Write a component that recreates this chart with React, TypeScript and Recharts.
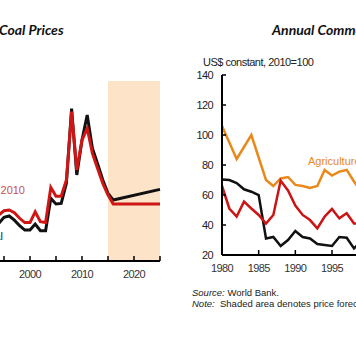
import { LineChart, Line, XAxis, YAxis, ReferenceArea } from 'recharts';

// Coal prices (US$/mt), left panel
const coalYears = [1994, 1995, 1996, 1997, 1998, 1999, 2000, 2001, 2002, 2003, 2004, 2005, 2006, 2007, 2008, 2009, 2010, 2011, 2012, 2013, 2014, 2015, 2016, 2025];
const coalNominal = [31.4, 36.4, 37.5, 34, 29.4, 25.8, 25.8, 30.8, 25.3, 25.3, 52.2, 47.5, 48, 64.7, 127, 71.7, 100.8, 121.7, 94, 81, 67.5, 56.4, 50.8, 59.7];
const coalReal = [38.3, 41.9, 42.5, 40.3, 35.6, 32, 32, 41, 32.8, 32, 61.4, 54, 54, 67.5, 124.4, 75.8, 100.8, 110.6, 89.7, 77, 64.7, 55, 47.5, 47.5];
const coalTicks = [1995, 2000, 2005, 2010, 2015, 2020, 2025];
const coalLabels = [2000, 2010, 2020];

// Annual commodity price indices, right panel
const commYears = [1980, 1981, 1982, 1983, 1984, 1985, 1986, 1987, 1988, 1989, 1990, 1991, 1992, 1993, 1994, 1995, 1996, 1997, 1998, 1999];
const agriculture = [106, 95, 84, 92, 100, 85, 70, 66, 71, 72, 66.7, 66, 64.7, 66, 76.7, 73, 75.6, 76.7, 69, 62];
const energy = [70.4, 70, 68, 63.8, 62.2, 60, 31, 32, 26, 30, 36, 32, 31, 27.3, 26.7, 26, 32, 31.5, 24.4, 29];
const metals = [66, 51, 45.6, 55.6, 51, 46.7, 41, 46.7, 69.6, 63, 53, 46.7, 43.3, 37.8, 45.6, 50.7, 44.4, 47.8, 41, 41];
const commXTicks = [1980, 1985, 1990, 1995, 2000, 2005, 2010, 2015, 2020, 2025];
const commYTicks = [20, 40, 60, 80, 100, 120, 140];

const coalData = coalYears.map((year, i) => ({ year, nominal: coalNominal[i], real: coalReal[i] }));
const commData = commYears.map((year, i) => ({ year, agriculture: agriculture[i], energy: energy[i], metals: metals[i] }));

const FONT = '"Liberation Sans", Arial, sans-serif';

const bottomTick = (labels: number[] | null) => (props: any) => {
  const { x, y, payload } = props;
  const show = labels ? labels.includes(payload.value) : true;
  return (
    <g>
      <line x1={x} x2={x} y1={y} y2={y - 5} stroke="#000" strokeWidth={1.5} />
      {show && (
        <text x={x} y={y + 17} textAnchor="middle" fontSize={11} fill="#333" fontFamily={FONT} letterSpacing={-0.6}>
          {payload.value}
        </text>
      )}
    </g>
  );
};

const leftTick = (props: any) => {
  const { x, y, payload } = props;
  return (
    <g>
      <line x1={x} x2={x + 4} y1={y} y2={y} stroke="#000" strokeWidth={1.5} />
      <text x={x - 9} y={y + 4} textAnchor="end" fontSize={11} fill="#222" fontFamily={FONT} letterSpacing={-0.6}>
        {payload.value}
      </text>
    </g>
  );
};

export default function App() {
  return (
    <div style={{ position: 'fixed', left: 0, top: 0, width: 356, height: 352, overflow: 'hidden', background: '#fff', fontFamily: FONT }}>
      <div style={{ position: 'absolute', left: -1, top: 21, fontFamily: 'Lato, sans-serif', fontStyle: 'italic', fontWeight: 700, fontSize: 14, color: '#111', whiteSpace: 'nowrap' }}>
        Coal Prices
      </div>
      <div style={{ position: 'absolute', left: 272, top: 21, fontFamily: 'Lato, sans-serif', fontStyle: 'italic', fontWeight: 700, fontSize: 14, color: '#111', whiteSpace: 'nowrap' }}>
        Annual Commodity Prices
      </div>

      <div style={{ position: 'absolute', left: -22, top: 0 }}>
        <LineChart width={202} height={300} data={coalData} margin={{ top: 81, right: 20, bottom: 9, left: 0 }}>
          <XAxis
            dataKey="year"
            type="number"
            domain={[1990, 2025]}
            ticks={coalTicks}
            height={30}
            tickSize={0}
            tickMargin={0}
            tickLine={false}
            axisLine={{ stroke: '#000', strokeWidth: 2 }}
            tick={bottomTick(coalLabels)}
            interval={0}
          />
          <YAxis hide domain={[0, 150]} />
          <ReferenceArea x1={2015} x2={2025} y1={0} y2={150} fill="#fde4c9" fillOpacity={1} stroke="none" />
          <Line dataKey="nominal" stroke="#111" strokeWidth={3} dot={false} isAnimationActive={false} />
          <Line dataKey="real" stroke="#d01515" strokeWidth={3} dot={false} isAnimationActive={false} />
        </LineChart>
      </div>
      <div style={{ position: 'absolute', right: 331, top: 184, fontSize: 11, color: '#c9504f', whiteSpace: 'nowrap' }}>Real, 2010</div>
      <div style={{ position: 'absolute', right: 353, top: 230, fontSize: 11, color: '#222', whiteSpace: 'nowrap' }}>Nominal</div>

      <div style={{ position: 'absolute', left: 180, top: 0 }}>
        <LineChart width={400} height={300} data={commData} margin={{ top: 75, right: 28, bottom: 15, left: 0 }}>
          <XAxis
            dataKey="year"
            type="number"
            domain={[1980, 2025]}
            ticks={commXTicks}
            height={30}
            tickSize={0}
            tickMargin={0}
            tickLine={false}
            axisLine={{ stroke: '#000', strokeWidth: 2 }}
            tick={bottomTick(null)}
            interval={0}
          />
          <YAxis
            type="number"
            domain={[20, 140]}
            ticks={commYTicks}
            width={42}
            tickSize={0}
            tickMargin={0}
            tickLine={false}
            axisLine={{ stroke: '#000', strokeWidth: 2 }}
            tick={leftTick}
            interval={0}
          />
          <Line dataKey="agriculture" stroke="#e8891c" strokeWidth={2.5} dot={false} isAnimationActive={false} />
          <Line dataKey="energy" stroke="#111" strokeWidth={2.5} dot={false} isAnimationActive={false} />
          <Line dataKey="metals" stroke="#cc1414" strokeWidth={2.5} dot={false} isAnimationActive={false} />
        </LineChart>
      </div>
      <div style={{ position: 'absolute', left: 203, top: 56, fontSize: 11, color: '#222', whiteSpace: 'nowrap', letterSpacing: -0.5 }}>
        US$ constant, 2010=100
      </div>
      <div style={{ position: 'absolute', left: 308, top: 155, fontSize: 11, color: '#e8891c', whiteSpace: 'nowrap' }}>
        Agriculture
      </div>
      <div style={{ position: 'absolute', left: 192, top: 287, fontSize: 9.5, color: '#222', whiteSpace: 'nowrap' }}>
        <i>Source:</i> World Bank.
      </div>
      <div style={{ position: 'absolute', left: 192, top: 298, fontSize: 9.5, color: '#222', whiteSpace: 'nowrap' }}>
        <i>Note:</i>&nbsp; Shaded area denotes price forecasts.
      </div>
    </div>
  );
}
